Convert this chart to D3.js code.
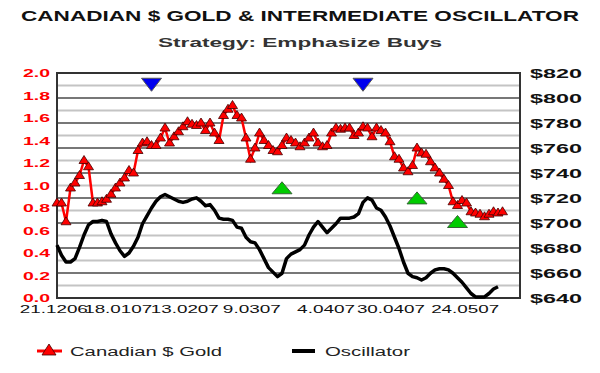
<!DOCTYPE html>
<html lang="en">
<head>
<meta charset="UTF-8">
<title>Canadian $ Gold & Intermediate Oscillator</title>
<script src="https://d3js.org/d3.v7.min.js"></script>
<style>
    body, html { margin: 0; padding: 0; overflow: hidden; background: #fff; }
    svg { display: block; }
    text { font-family: "Liberation Sans", Arial, sans-serif; }
</style>
</head>
<body>
<svg id="chart" width="600" height="373"></svg>
<script>
// Canadian $ gold price, one value per trading day
const gold = [
    716, 716, 701, 728, 732, 738, 750, 745, 716, 716,
    717, 719, 723, 728, 732, 736, 742, 740, 758, 764,
    765, 762, 762, 768, 776, 764, 769, 773, 777, 781,
    779, 778, 780, 774, 780, 772, 766, 786, 791, 794,
    786, 784, 768, 751, 760, 772, 766, 762, 758, 757,
    762, 768, 766, 764, 761, 764, 768, 772, 764, 761,
    762, 772, 776, 775, 776, 776, 770, 772, 777, 776,
    769, 776, 774, 772, 765, 753, 751, 744, 741, 746,
    760, 756, 755, 749, 744, 740, 735, 730, 717, 714,
    718, 716, 709, 708, 707, 705, 707, 709, 708, 709
];
// intermediate oscillator, same days
const oscillator = [
    0.47, 0.38, 0.32, 0.32, 0.35, 0.45, 0.56, 0.65, 0.68, 0.68,
    0.69, 0.68, 0.57, 0.49, 0.42, 0.37, 0.40, 0.46, 0.54, 0.66,
    0.73, 0.80, 0.86, 0.90, 0.92, 0.90, 0.88, 0.86, 0.85, 0.86,
    0.88, 0.89, 0.86, 0.82, 0.83, 0.78, 0.71, 0.70, 0.70, 0.69,
    0.63, 0.62, 0.54, 0.50, 0.49, 0.43, 0.35, 0.27, 0.23, 0.19,
    0.22, 0.35, 0.39, 0.41, 0.43, 0.47, 0.56, 0.63, 0.68, 0.63,
    0.58, 0.62, 0.66, 0.71, 0.71, 0.71, 0.72, 0.75, 0.85, 0.89,
    0.87, 0.80, 0.78, 0.72, 0.64, 0.54, 0.44, 0.32, 0.22, 0.19,
    0.18, 0.16, 0.18, 0.22, 0.25, 0.26, 0.26, 0.25, 0.22, 0.18,
    0.14, 0.09, 0.04, 0.01, 0.01, 0.01, 0.04, 0.08, 0.10
];
// sell (blue) and buy (green) signals: day index and oscillator level
const sellDays = [21, 68];
const sellLevels = [1.9, 1.9];
const buyDays = [50, 80, 89];
const buyLevels = [0.98, 0.89, 0.68];

const dateLabels = ["21.1206", "18.0107", "13.0207", "9.0307", "4.0407", "30.0407", "24.0507"];
const dateDays = [-0.7, 13.6, 28.4, 43.3, 59.8, 74.2, 90.7];
const oscTicks = [0, 0.2, 0.4, 0.6, 0.8, 1.0, 1.2, 1.4, 1.6, 1.8, 2.0];
const goldTicks = [640, 660, 680, 700, 720, 740, 760, 780, 800, 820];
const goldGrid = d3.range(650, 820, 10);

const svg = d3.select("#chart");
const plotLeft = 57, plotRight = 520, plotTop = 73, plotBottom = 298;

const x = d3.scaleLinear().domain([0, gold.length - 1]).range([plotLeft, 502.5]);
const yOsc = d3.scaleLinear().domain([0, 2]).range([plotBottom, plotTop]);
const yGold = d3.scaleLinear().domain([640, 820]).range([plotBottom, plotTop]);

// titles
svg.append("text").attr("x", 300).attr("y", 21).attr("text-anchor", "middle")
    .attr("font-size", 14).attr("font-weight", "bold").attr("fill", "#111")
    .attr("textLength", 558).attr("lengthAdjust", "spacingAndGlyphs")
    .text("CANADIAN $ GOLD & INTERMEDIATE OSCILLATOR");
svg.append("text").attr("x", 300).attr("y", 47).attr("text-anchor", "middle")
    .attr("font-size", 12.5).attr("font-weight", "bold").attr("fill", "#333")
    .attr("textLength", 284).attr("lengthAdjust", "spacingAndGlyphs")
    .text("Strategy: Emphasize Buys");

// gridlines on the gold scale
svg.append("g").selectAll("line").data(goldGrid).join("line")
    .attr("x1", plotLeft).attr("x2", plotRight)
    .attr("y1", d => yGold(d)).attr("y2", d => yGold(d))
    .attr("stroke", d => d % 20 === 0 ? "#777" : "#c4c4c4")
    .attr("stroke-width", 2);

// plot frame
svg.append("rect").attr("x", plotLeft).attr("y", plotTop)
    .attr("width", plotRight - plotLeft).attr("height", plotBottom - plotTop)
    .attr("fill", "none").attr("stroke", "#333").attr("stroke-width", 2);

// left axis labels
svg.append("g").selectAll("text").data(oscTicks).join("text")
    .attr("x", 50).attr("y", d => yOsc(d) + 4)
    .attr("text-anchor", "end").attr("font-size", 11).attr("font-weight", "bold")
    .attr("fill", "#ff0000")
    .attr("textLength", 27).attr("lengthAdjust", "spacingAndGlyphs")
    .text(d => d.toFixed(1));

// right axis labels
svg.append("g").selectAll("text").data(goldTicks).join("text")
    .attr("x", 530).attr("y", d => yGold(d) + 5)
    .attr("font-size", 12).attr("font-weight", "bold").attr("fill", "#111")
    .attr("textLength", 52).attr("lengthAdjust", "spacingAndGlyphs")
    .text(d => "$" + d);

// date labels
svg.append("g").selectAll("text").data(dateLabels).join("text")
    .attr("x", (d, i) => x(dateDays[i])).attr("y", 313)
    .attr("text-anchor", "middle").attr("font-size", 11).attr("fill", "#111")
    .attr("textLength", d => d.length === 7 ? 68 : 58).attr("lengthAdjust", "spacingAndGlyphs")
    .text(d => d);

// oscillator line
svg.append("path").datum(oscillator)
    .attr("d", d3.line().x((d, i) => x(i)).y(d => yOsc(d)))
    .attr("fill", "none").attr("stroke", "#000").attr("stroke-width", 3.5)
    .attr("stroke-linejoin", "round");

// gold line and markers
svg.append("path").datum(gold)
    .attr("d", d3.line().x((d, i) => x(i)).y(d => yGold(d)))
    .attr("fill", "none").attr("stroke", "#ff0000").attr("stroke-width", 2.5);

const tri = "M0,-5L5,3L-5,3Z";
svg.append("g").selectAll("path").data(gold).join("path")
    .attr("d", tri)
    .attr("transform", (d, i) => `translate(${x(i)},${yGold(d)})`)
    .attr("fill", "#ff0000").attr("stroke", "#440000").attr("stroke-width", 0.8);

// signals
svg.append("g").selectAll("path").data(sellDays).join("path")
    .attr("d", "M-10,-6L10,-6L0,7Z")
    .attr("transform", (d, i) => `translate(${x(d)},${yOsc(sellLevels[i])})`)
    .attr("fill", "#0000ee").attr("stroke", "#555").attr("stroke-width", 1);
svg.append("g").selectAll("path").data(buyDays).join("path")
    .attr("d", "M-10,6L10,6L0,-6Z")
    .attr("transform", (d, i) => `translate(${x(d)},${yOsc(buyLevels[i])})`)
    .attr("fill", "#00cc00").attr("stroke", "#336633").attr("stroke-width", 1);

// legend
const legend = svg.append("g");
legend.append("line").attr("x1", 37).attr("x2", 62).attr("y1", 351).attr("y2", 351)
    .attr("stroke", "#ff0000").attr("stroke-width", 3);
legend.append("path").attr("d", "M0,-6L7,5L-7,5Z").attr("transform", "translate(49,350)")
    .attr("fill", "#ff0000").attr("stroke", "#440000").attr("stroke-width", 0.8);
legend.append("text").attr("x", 70).attr("y", 356).attr("font-size", 12).attr("fill", "#222")
    .attr("textLength", 152).attr("lengthAdjust", "spacingAndGlyphs")
    .text("Canadian $ Gold");
legend.append("line").attr("x1", 292).attr("x2", 315).attr("y1", 351).attr("y2", 351)
    .attr("stroke", "#000").attr("stroke-width", 4);
legend.append("text").attr("x", 325).attr("y", 356).attr("font-size", 12).attr("fill", "#222")
    .attr("textLength", 85).attr("lengthAdjust", "spacingAndGlyphs")
    .text("Oscillator");
</script>
</body>
</html>
